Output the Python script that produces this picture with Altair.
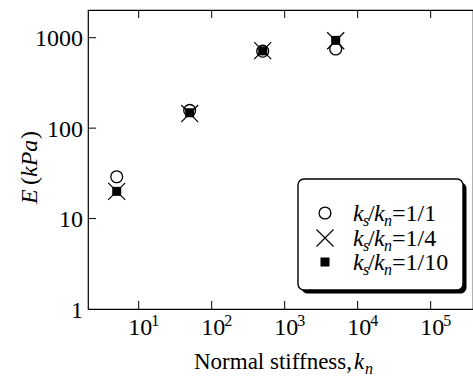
import altair as alt
import pandas as pd

# ---- data ----
kn = [5, 50, 500, 5000]
E_r1 = [29, 157, 710, 750]     # ks/kn = 1/1  (open circle)
E_r4 = [20, 145, 720, 925]     # ks/kn = 1/4  (cross)
E_r10 = [20, 148, 715, 935]    # ks/kn = 1/10 (filled square)

x_ticks = [10, 100, 1000, 10000, 100000]
x_exps = ["1", "2", "3", "4", "5"]
y_ticks = [1, 10, 100, 1000]
y_labels = ["1", "10", "100", "1000"]
legend_tails = ["=1/1", "=1/4", "=1/10"]

W, H = 385, 299
FONT = "Liberation Serif"
xs = alt.Scale(type="log", domain=[2.022, 380000], nice=False, clamp=False)
ys = alt.Scale(type="log", domain=[1, 2025], nice=False)

one = pd.DataFrame({"a": [0]})
CROSS = "M-1,-1L1,1M-1,1L1,-1"


def series(vals, mark):
    df = pd.DataFrame({"kn": kn, "E": vals})
    return alt.Chart(df).mark_point(**mark).encode(
        x=alt.X("kn:Q", scale=xs, axis=None),
        y=alt.Y("E:Q", scale=ys, axis=None),
    )


circ = dict(shape="circle", size=140, filled=False, stroke="black", strokeWidth=1.3, opacity=1)
crs = dict(shape=CROSS, size=290, filled=False, stroke="black", strokeWidth=1.2, opacity=1)
sqr = dict(shape="square", size=81, filled=True, fill="black", strokeWidth=0, opacity=1)

layers = [series(E_r1, circ), series(E_r4, crs), series(E_r10, sqr)]

# ---- inward ticks ----
dxt = pd.DataFrame({"v": x_ticks, "e": x_exps})
dyt = pd.DataFrame({"v": y_ticks, "l": y_labels})
tick = dict(color="black", strokeWidth=1)
layers.append(alt.Chart(dxt).mark_rule(**tick).encode(
    x=alt.X("v:Q", scale=xs, axis=None), y=alt.value(H), y2=alt.value(H - 8)))
layers.append(alt.Chart(dxt).mark_rule(**tick).encode(
    x=alt.X("v:Q", scale=xs, axis=None), y=alt.value(0), y2=alt.value(8)))
layers.append(alt.Chart(dyt[dyt.v > 1]).mark_rule(**tick).encode(
    y=alt.Y("v:Q", scale=ys, axis=None), x=alt.value(0), x2=alt.value(8)))

# ---- tick labels ----
layers.append(alt.Chart(dxt).mark_text(
    text="10", font=FONT, fontSize=24, align="center", baseline="alphabetic", dx=1.5, color="black"
).encode(x=alt.X("v:Q", scale=xs, axis=None), y=alt.value(325)))
layers.append(alt.Chart(dxt).mark_text(
    font=FONT, fontSize=16, align="left", baseline="alphabetic", dx=12.5, color="black"
).encode(x=alt.X("v:Q", scale=xs, axis=None), y=alt.value(316), text="e:N"))
layers.append(alt.Chart(dyt).mark_text(
    font=FONT, fontSize=24, align="right", baseline="alphabetic", dy=8.5, color="black"
).encode(y=alt.Y("v:Q", scale=ys, axis=None), x=alt.value(-5), text="l:N"))


def txt(s, x, y, size=24, italic=False, angle=0):
    props = dict(text=s, font=FONT, fontSize=size, align="left", baseline="alphabetic",
                 color="black", fontStyle="italic" if italic else "normal")
    if angle:
        props["angle"] = angle
    return alt.Chart(one).mark_text(**props).encode(x=alt.value(x), y=alt.value(y))


# ---- axis titles ----
layers += [
    txt("Normal stiffness,", 106, 359, 23),
    txt("k", 266, 359, 23, True),
    txt("n", 277, 364, 16, True),
]
layers += [
    txt("E", -51, 194, 24, True, 270),
    txt("(", -51, 175, 24, False, 270),
    txt("kPa", -51, 167, 24, True, 270),
    txt(")", -51, 129, 24, False, 270),
]

# ---- legend box ----
layers.append(alt.Chart(one).mark_rect(fill="black", cornerRadius=6).encode(
    x=alt.value(213.5), x2=alt.value(378.5), y=alt.value(172.5), y2=alt.value(283.5)))
layers.append(alt.Chart(one).mark_rect(fill="white", stroke="black", strokeWidth=1.4, cornerRadius=6).encode(
    x=alt.value(210), x2=alt.value(375), y=alt.value(169), y2=alt.value(280)))

sym_y = [203, 228, 252]
base_y = [211, 235.5, 259.5]
for m, sy, by, tail in zip([circ, crs, sqr], sym_y, base_y, legend_tails):
    layers.append(alt.Chart(one).mark_point(**m).encode(x=alt.value(237), y=alt.value(sy)))
    layers += [
        txt("k", 265, by, 24, True),
        txt("s", 275, by + 5, 16, True),
        txt("/", 280, by, 24),
        txt("k", 286, by, 24, True),
        txt("n", 296, by + 5, 16, True),
        txt(tail, 304, by, 24),
    ]

chart = alt.layer(*layers).properties(
    width=W, height=H,
    autosize=alt.AutoSizeParams(type="none"),
    padding={"left": 88, "top": 10, "right": 0, "bottom": 69},
    background="white",
).configure_view(stroke="black", strokeWidth=1.2)

chart.save("out.html", embed_options={"renderer": "svg", "actions": False})
